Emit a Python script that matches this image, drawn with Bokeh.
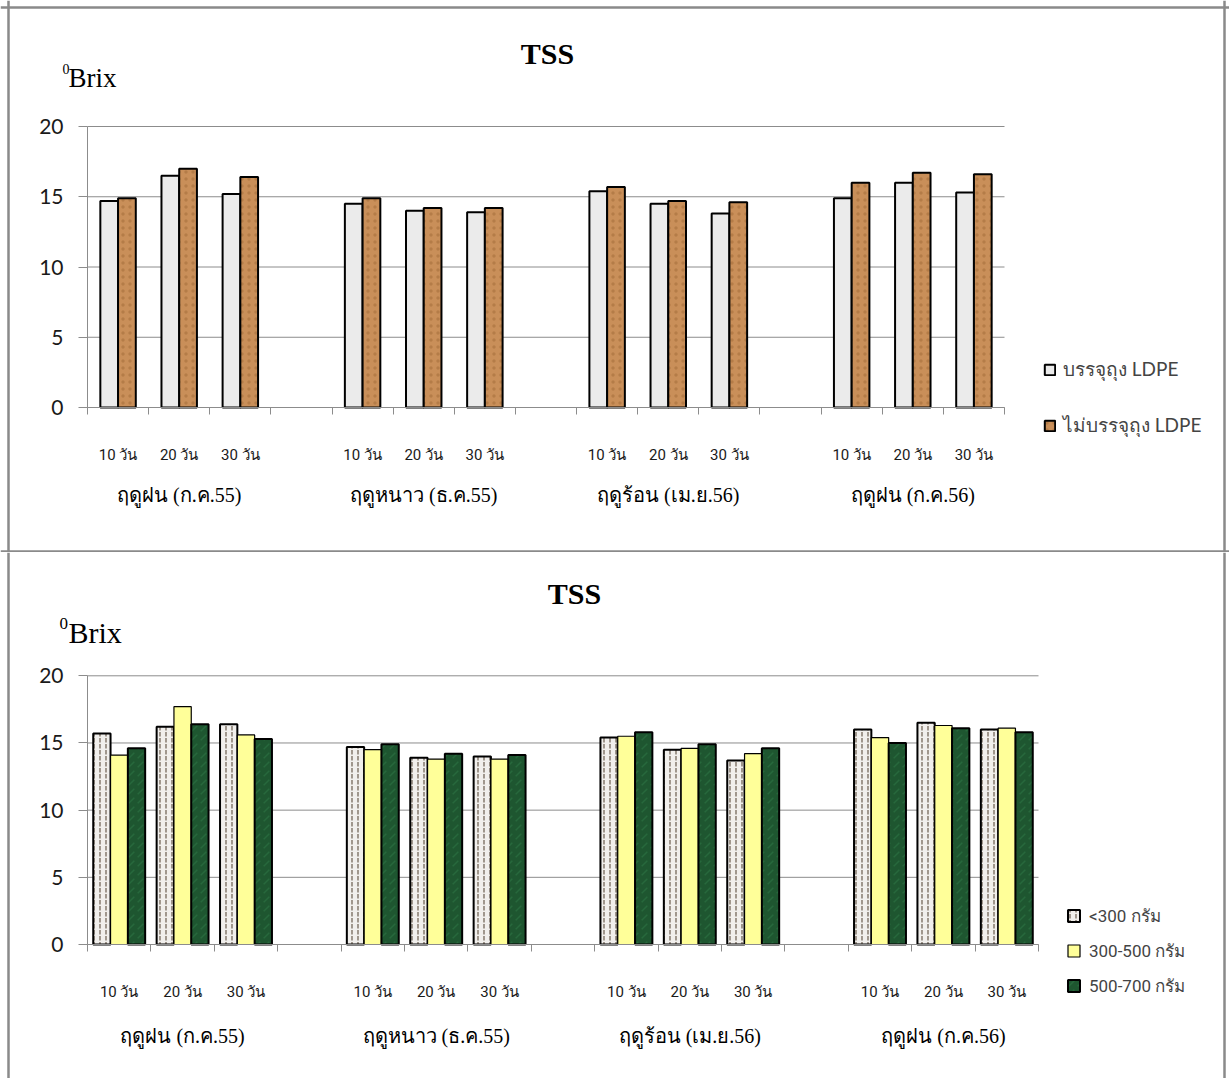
from bokeh.embed import file_html
from bokeh.layouts import column
from bokeh.models import (ColumnDataSource, FixedTicker, Label, Legend, LegendItem,
                          LinearAxis, Range1d, Span)
from bokeh.plotting import figure
from bokeh.resources import INLINE
from bokeh.transform import dodge

# ---------------------------------------------------------------- data ----
days = ["10 วัน", "20 วัน", "30 วัน"]
seasons = ["ฤดูฝน (ก.ค.55)", "ฤดูหนาว (ธ.ค.55)", "ฤดูร้อน (เม.ย.56)", "ฤดูฝน (ก.ค.56)"]
y_ticks = [0, 5, 10, 15, 20]

# TSS (°Brix), season by season, 10/20/30 days of storage
ldpe_packed = [14.7, 16.5, 15.2, 14.5, 14.0, 13.9, 15.4, 14.5, 13.8, 14.9, 16.0, 15.3]
ldpe_unpacked = [14.9, 17.0, 16.4, 14.9, 14.2, 14.2, 15.7, 14.7, 14.6, 16.0, 16.7, 16.6]

# TSS (°Brix) by fruit weight class
w_lt300 = [15.7, 16.2, 16.4, 14.7, 13.9, 14.0, 15.4, 14.5, 13.7, 16.0, 16.5, 16.0]
w_300_500 = [14.1, 17.7, 15.6, 14.5, 13.8, 13.8, 15.5, 14.6, 14.2, 15.4, 16.3, 16.1]
w_500_700 = [14.6, 16.4, 15.3, 14.9, 14.2, 14.1, 15.8, 14.9, 14.6, 15.0, 16.1, 15.8]

labels_ldpe = ["บรรจุถุง LDPE", "ไม่บรรจุถุง LDPE"]
labels_weight = ["<300 กรัม", "300-500 กรัม", "500-700 กรัม"]

# --------------------------------------------------------------- style ----
GRID = "#8c8c8c"
BORDER = "#8a8a8a"
SERIF = "Liberation Serif"
N_DAYS = len(days)
N_SLOTS = len(seasons) * (N_DAYS + 1) - 1          # one empty slot between seasons
slot_x = [g * (N_DAYS + 1) + d + 0.5 for g in range(len(seasons)) for d in range(N_DAYS)]
season_x = [g * (N_DAYS + 1) + N_DAYS / 2 for g in range(len(seasons))]
day_names = [days[i % N_DAYS] for i in range(len(slot_x))]
PAGE_W = 1229


def make_panel(height, plot_box, day_standoff, season_standoff, borders_y):
    """plot_box = canvas pixels of (x=0, x=N_SLOTS, y=0, y=20)."""
    px0, px1, py0, py1 = plot_box
    kx = (px1 - px0) / N_SLOTS
    ky = (py0 - py1) / 20.0

    def fx(px):
        return (px - px0) / kx

    def fy(py):
        return (py0 - py) / ky

    p = figure(width=PAGE_W, height=height,
               x_range=Range1d(fx(0), fx(PAGE_W)), y_range=Range1d(fy(height), fy(0)),
               x_axis_type=None, y_axis_type=None, output_backend="svg",
               toolbar_location=None, min_border=0, title=None)
    p.outline_line_color = None
    p.background_fill_color = "white"
    p.border_fill_color = "white"

    # panel frame
    for bx in (8, 1224):
        p.add_layout(Span(location=fx(bx), dimension="height", line_color=BORDER,
                          line_width=2.5))
    for by in borders_y:
        p.add_layout(Span(location=fy(by), dimension="width", line_color=BORDER,
                          line_width=2.5))

    # horizontal gridlines across the plotting area only
    p.segment(x0=0, x1=N_SLOTS, y0=y_ticks, y1=y_ticks, line_color=GRID, line_width=1)

    yax = LinearAxis(fixed_location=0, bounds=(0, 20), ticker=FixedTicker(ticks=y_ticks),
                     axis_line_color=GRID, major_tick_line_color=GRID,
                     major_tick_out=9, major_tick_in=0, minor_tick_line_color=None,
                     major_label_text_font="Lato", major_label_text_font_size="21px",
                     major_label_text_color="#1a1a1a", major_label_standoff=15)
    p.add_layout(yax, "left")

    # day labels under each slot; tick marks sit on the slot boundaries
    day_axis = LinearAxis(fixed_location=0, bounds=(0, N_SLOTS),
                          ticker=FixedTicker(ticks=slot_x, minor_ticks=list(range(N_SLOTS + 1))),
                          major_label_overrides={x: n for x, n in zip(slot_x, day_names)},
                          axis_line_color=GRID, major_tick_line_color=None,
                          major_tick_out=0, major_tick_in=0,
                          minor_tick_line_color=GRID, minor_tick_out=7, minor_tick_in=0,
                          major_label_text_font="Roboto", major_label_text_font_size="15px",
                          major_label_text_color="#1a1a1a", major_label_standoff=day_standoff)
    season_axis = LinearAxis(fixed_location=0, bounds=(0, N_SLOTS),
                             ticker=FixedTicker(ticks=season_x),
                             major_label_overrides={x: s for x, s in zip(season_x, seasons)},
                             axis_line_color=None, major_tick_line_color=None,
                             minor_tick_line_color=None, major_tick_out=0, major_tick_in=0,
                             major_label_text_font=SERIF, major_label_text_font_size="20px",
                             major_label_text_color="black",
                             major_label_standoff=season_standoff)
    p.add_layout(day_axis, "below")
    p.add_layout(season_axis, "below")
    return p, fx, fy


def heading(p, fx, fy, x_px, base_px, text, size, **kw):
    # vertically centred text placed from its baseline position
    p.add_layout(Label(x=fx(x_px), y=fy(base_px - 0.34 * size), text=text, text_font=SERIF,
                       text_font_size=f"{size}px", text_baseline="middle",
                       text_color="black", **kw))


def add_headings(p, fx, fy, title_px, sup_px, brix_px, brix_size, sup_size):
    heading(p, fx, fy, title_px[0], title_px[1], "TSS", 30,
            text_font_style="bold", text_align="center")
    heading(p, fx, fy, sup_px[0], sup_px[1], "0", sup_size)
    heading(p, fx, fy, brix_px[0], brix_px[1], "Brix", brix_size)


# ------------------------------------------------ chart 1: LDPE packing ----
H1 = 552
p1, fx1, fy1 = make_panel(H1, (87, 1004, 407, 126), 31, 76, (7, 551))

src1 = ColumnDataSource(dict(x=slot_x, packed=ldpe_packed, unpacked=ldpe_unpacked))
bw1 = 0.29
r_packed = p1.vbar(x=dodge("x", -bw1 / 2, range=p1.x_range), top="packed", bottom=0, width=bw1,
                   source=src1, fill_color="#ebebeb", line_color="black", line_width=2)
r_unpacked = p1.vbar(x=dodge("x", bw1 / 2, range=p1.x_range), top="unpacked", bottom=0,
                     width=bw1, source=src1, fill_color="#c98f59", line_color="black",
                     line_width=2, hatch_pattern="dot", hatch_color="#9c6434",
                     hatch_scale=7, hatch_weight=1.5, hatch_alpha=0.45)
add_headings(p1, fx1, fy1, (547, 63.3), (62, 73.5), (68, 86.7), 27, 14)

leg1 = Legend(items=[LegendItem(label=labels_ldpe[0], renderers=[r_packed]),
                     LegendItem(label=labels_ldpe[1], renderers=[r_unpacked])],
              location=(1043, H1 - 440), glyph_width=13, glyph_height=13, label_height=30,
              spacing=26, padding=0, margin=0, label_standoff=7,
              label_text_font="Lato", label_text_font_size="19px",
              border_line_color=None, background_fill_alpha=0)
p1.add_layout(leg1)

# ---------------------------------------------- chart 2: weight classes ----
H2 = 526
TOP2 = H1                                            # page offset of the second panel
p2, fx2, fy2 = make_panel(H2, (87, 1038, 944 - TOP2, 675.3 - TOP2), 31, 80, ())

src2 = ColumnDataSource(dict(x=slot_x, a=w_lt300, b=w_300_500, c=w_500_700))
bw2 = 0.273
r_a = p2.vbar(x=dodge("x", -bw2, range=p2.x_range), top="a", bottom=0, width=bw2, source=src2,
              fill_color="#f1efec", line_color="black", line_width=2,
              hatch_pattern="vertical_dash", hatch_color="#968d82", hatch_scale=6,
              hatch_weight=1.8)
r_b = p2.vbar(x=dodge("x", 0, range=p2.x_range), top="b", bottom=0, width=bw2, source=src2,
              fill_color="#ffff99", line_color="black", line_width=1.2)
r_c = p2.vbar(x=dodge("x", bw2, range=p2.x_range), top="c", bottom=0, width=bw2, source=src2,
              fill_color="#1e5630", line_color="black", line_width=2,
              hatch_pattern="right_diagonal_dash", hatch_color="#2f7a48", hatch_scale=9,
              hatch_weight=1.5, hatch_alpha=0.5)
add_headings(p2, fx2, fy2, (574, 603.2 - TOP2), (59, 629 - TOP2), (68, 642.6 - TOP2), 30, 17)

leg2 = Legend(items=[LegendItem(label=labels_weight[0], renderers=[r_a]),
                     LegendItem(label=labels_weight[1], renderers=[r_b]),
                     LegendItem(label=labels_weight[2], renderers=[r_c])],
              location=(1066, H2 - (999 - TOP2)), glyph_width=15, glyph_height=15,
              label_height=27, spacing=8, padding=0, margin=0, label_standoff=8,
              label_text_font="Roboto", label_text_font_size="17px",
              border_line_color=None, background_fill_alpha=0)
p2.add_layout(leg2)

layout = column(p1, p2, spacing=0)
open("out.html", "w").write(file_html(layout, INLINE))
